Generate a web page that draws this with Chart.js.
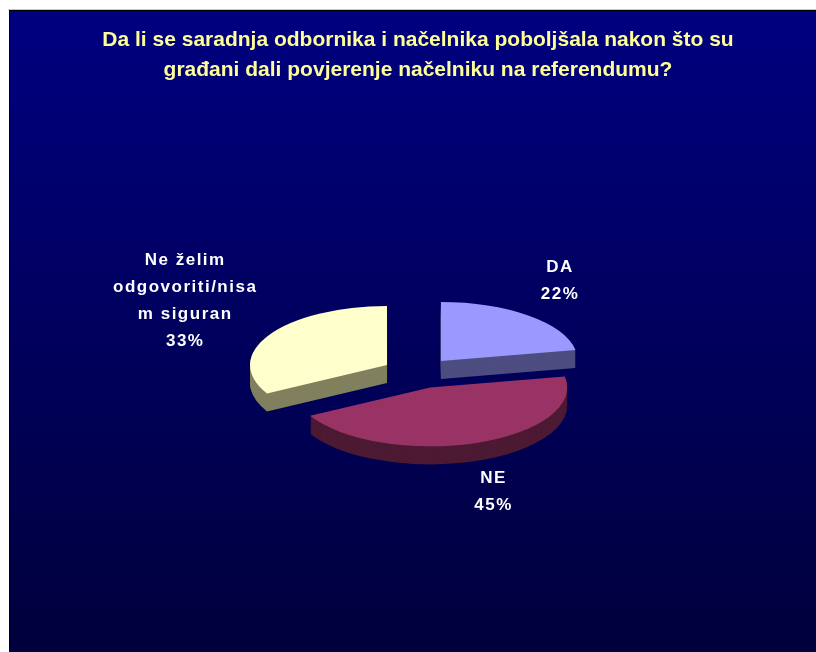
<!DOCTYPE html>
<html>
<head>
<meta charset="utf-8">
<script src="https://cdn.jsdelivr.net/npm/chart.js@4.4.0/dist/chart.umd.min.js"></script>
<style>
  html, body { margin: 0; padding: 0; background: #fff; }
  canvas { display: block; }
</style>
</head>
<body>
<canvas id="pie3d" width="816" height="652"></canvas>
<script>
// Chart data
const titleLines = ['Da li se saradnja odbornika i načelnika poboljšala nakon što su', 'građani dali povjerenje načelniku na referendumu?'];
const categories = ['DA', 'NE', ['Ne želim', 'odgovoriti/nisa', 'm siguran']];
const shares = [22, 45, 33];
const topColors = ['#9999FF', '#993366', '#FFFFCC'];
const sideColors = ['#4D4D80', '#4D1A33', '#80805F'];

// fake 3d look
const tilt = 0.43;
const depth = 18;
const explode = 36;

function squash(ctx, cy) {
    ctx.translate(0, cy);
    ctx.scale(1, tilt);
    ctx.translate(0, -cy);
}

function midAngle(arc) {
    return (arc.startAngle + arc.endAngle) / 2;
}

function shift(arc) {
    const mid = midAngle(arc);
    return [Math.cos(mid) * explode, Math.sin(mid) * explode * tilt];
}

const pie3d = {
    id: 'pie3d',
    beforeDraw(chart) {
        const ctx = chart.ctx;
        ctx.save();
        ctx.fillStyle = '#fff';
        ctx.fillRect(0, 0, chart.width, chart.height);
        const grad = ctx.createLinearGradient(0, 10, 0, chart.height);
        grad.addColorStop(0, '#000080');
        grad.addColorStop(1, '#00003C');
        ctx.fillStyle = grad;
        ctx.fillRect(9, 10, chart.width - 9, chart.height - 10);
        ctx.fillStyle = '#c8c8c8';
        ctx.fillRect(8, 9, chart.width - 8, 1);
        ctx.fillStyle = '#000';
        ctx.fillRect(9, 10, chart.width - 9, 1);
        ctx.fillRect(9, 10, 1, chart.height - 10);
        ctx.restore();
    },
    beforeDatasetsDraw(chart) {
        const ctx = chart.ctx;
        const arcs = chart.getDatasetMeta(0).data.map((arc, i) => ({arc, i}));
        // back slices first
        arcs.sort((a, b) => Math.sin(midAngle(a.arc)) - Math.sin(midAngle(b.arc)));

        arcs.forEach(({arc, i}) => {
            const [dx, dy] = shift(arc);
            ctx.fillStyle = sideColors[i];
            for (let d = depth; d >= 1; d--) {
                ctx.save();
                ctx.translate(dx, dy + d);
                squash(ctx, arc.y);
                ctx.beginPath();
                ctx.moveTo(arc.x, arc.y);
                ctx.arc(arc.x, arc.y, arc.outerRadius, arc.startAngle, arc.endAngle);
                ctx.closePath();
                ctx.fill();
                ctx.restore();
            }
        });

        arcs.forEach(({arc}) => {
            const [dx, dy] = shift(arc);
            ctx.save();
            ctx.translate(dx, dy);
            squash(ctx, arc.y);
            arc.draw(ctx);
            ctx.restore();
        });
        return false;
    },
    afterDraw(chart) {
        const ctx = chart.ctx;
        const arcs = chart.getDatasetMeta(0).data;
        const total = shares.reduce((a, b) => a + b, 0);
        ctx.save();
        ctx.font = 'bold 17px "Liberation Sans", Arial, sans-serif';
        ctx.letterSpacing = '1.5px';
        ctx.fillStyle = '#fff';
        ctx.textAlign = 'center';
        ctx.textBaseline = 'middle';
        arcs.forEach((arc, i) => {
            const mid = midAngle(arc);
            const lines = [].concat(categories[i], Math.round(shares[i] / total * 100) + '%');
            let w = 0;
            lines.forEach(t => { w = Math.max(w, ctx.measureText(t).width); });
            const lh = 27;
            const lx = arc.x + Math.cos(mid) * (arc.outerRadius * 1.5 + w * 0.45);
            const ly = arc.y + Math.sin(mid) * arc.outerRadius * 0.9 + 3 - (lines.length - 2) * 6;
            lines.forEach((t, j) => {
                ctx.fillText(t, lx, ly + (j - (lines.length - 1) / 2) * lh);
            });
        });
        ctx.restore();
    }
};

new Chart(document.getElementById('pie3d'), {
    type: 'pie',
    data: {
        labels: categories,
        datasets: [{
            data: shares,
            backgroundColor: topColors,
            borderWidth: 0
        }]
    },
    options: {
        responsive: false,
        animation: false,
        radius: 137,
        layout: {
            padding: {top: 10, left: 30, right: 10, bottom: 0}
        },
        plugins: {
            legend: {display: false},
            tooltip: {enabled: false},
            title: {
                display: true,
                text: titleLines,
                color: '#FFFF99',
                font: {family: '"Liberation Sans", Arial, sans-serif', size: 21, weight: 'bold', lineHeight: 1.4},
                padding: {top: 16, bottom: 9}
            }
        }
    },
    plugins: [pie3d]
});
</script>
</body>
</html>
